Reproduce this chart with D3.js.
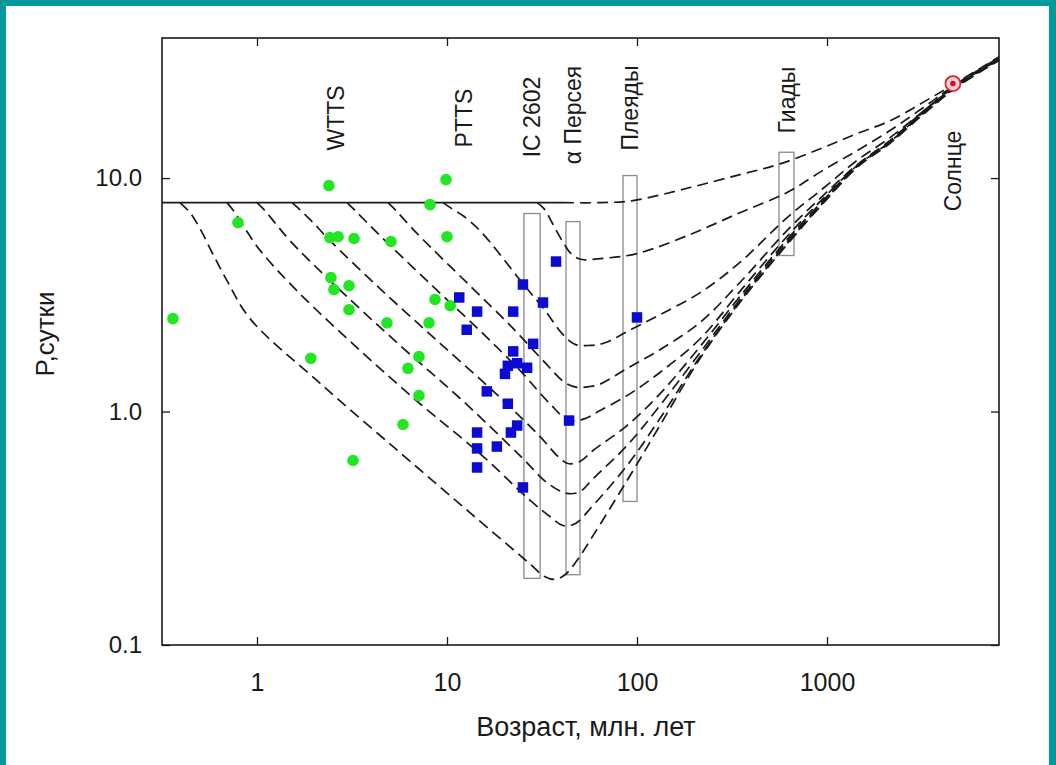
<!DOCTYPE html>
<html>
<head>
<meta charset="utf-8">
<script src="https://cdn.jsdelivr.net/npm/d3@7"></script>
<style>
  html, body { margin: 0; padding: 0; background: #ffffff; }
  svg { display: block; }
  text { font-family: "Liberation Sans", Arial, sans-serif; fill: #1a1a1a; }
</style>
</head>
<body>
<svg id="chart" width="1056" height="765"></svg>
<script>
// Rotation period (days) versus age (Myr), log-log.

const xTicks = [1, 10, 100, 1000];
const xTickLabels = ["1", "10", "100", "1000"];
const yTicks = [0.1, 1, 10];
const yTickLabels = ["0.1", "1.0", "10.0"];

// Weak-line T Tauri stars [age, period]
const wttsStars = [
  [0.361, 2.50], [0.794, 6.45], [1.92, 1.69], [2.39, 9.29], [2.42, 5.56],
  [2.67, 5.61], [3.24, 5.51], [2.45, 3.75], [2.54, 3.33], [3.05, 3.46],
  [3.05, 2.73], [3.20, 0.617], [5.07, 5.35], [4.83, 2.40], [6.23, 1.53],
  [7.12, 1.72], [7.12, 1.17], [5.87, 0.88], [8.04, 2.40], [8.64, 3.02],
  [10.4, 2.84], [8.14, 7.70], [9.88, 9.85], [10.0, 5.61]
];

// Post-T Tauri stars and young cluster members [age, period]
const pttsStars = [
  [11.6, 3.08], [14.4, 2.68], [12.7, 2.24], [22.3, 2.68], [25.1, 3.50],
  [32.0, 2.93], [37.5, 4.39], [28.4, 1.95], [22.3, 1.81], [20.9, 1.57],
  [23.4, 1.61], [26.4, 1.54], [20.2, 1.45], [16.2, 1.22], [20.9, 1.08],
  [23.4, 0.871], [21.7, 0.813], [14.4, 0.813], [14.4, 0.695], [18.3, 0.708],
  [14.4, 0.576], [25.1, 0.473], [43.9, 0.915], [100, 2.53]
];

// Cluster boxes: age range and period range
const clusterNames = ["IC 2602", "α Персея", "Плеяды", "Гиады"];
const clusterAgeMin = [25.4, 42.3, 84.4, 559];
const clusterAgeMax = [30.9, 50.1, 100, 670];
const clusterPMin = [0.193, 0.200, 0.412, 4.66];
const clusterPMax = [7.05, 6.51, 10.25, 12.9];

// Text labels over the plot
const labelTexts = ["WTTS", "PTTS", "IC 2602", "α Персея", "Плеяды", "Гиады", "Солнце"];
const labelAges = [2.6, 12.3, 27.9, 46, 92, 612, 4600];

// The Sun
const sun = [4600, 25.4];

// Disk-locking phase: constant period until the disk is gone
const diskPeriod = 7.85;
const diskEndAge = 40.8;

// Model tracks [age, period], one per disk lifetime
const trackTop = [
  [40.8, 7.85], [63.9, 7.85], [95.3, 8.01], [190, 9.11], [348, 10.35], [566, 11.5],
  [953, 13.5], [1439, 15.5], [2146, 17.6], [3201, 21.1], [4718, 25.4], [8040, 33.1]
];
const track30 = [
  [29.8, 7.85], [32.4, 7.40], [35.7, 6.45], [40.3, 5.40], [45.5, 4.70], [51.3, 4.48],
  [63.9, 4.52], [100, 4.75], [190, 5.73], [348, 7.11], [616, 8.67], [953, 10.8],
  [1439, 13.1], [2146, 16.0], [3201, 20.0], [4718, 25.1], [8040, 32.8]
];
const track10 = [
  [9.53, 7.85], [10.6, 7.40], [12.1, 6.91], [14.9, 5.96], [25.1, 3.53], [32.8, 2.71],
  [40.3, 2.16], [47.2, 1.94], [56.6, 1.92], [67.9, 1.97], [88.6, 2.20], [132, 2.60],
  [215, 3.23], [348, 4.35], [616, 6.77], [953, 9.02], [1439, 11.9], [2146, 14.9],
  [3201, 19.3], [4718, 24.9], [8040, 32.5]
];
const track5 = [
  [4.89, 7.85], [5.39, 7.26], [6.01, 6.58], [7.21, 5.62], [13.2, 3.46], [21.5, 2.34],
  [32.8, 1.62], [41.8, 1.33], [48.3, 1.27], [56.6, 1.28], [63.9, 1.31], [88.6, 1.53],
  [132, 1.84], [215, 2.41], [348, 3.57], [616, 5.96], [953, 8.41], [1439, 11.4],
  [2146, 14.5], [3201, 19.3], [4718, 24.7], [8040, 32.5]
];
const track3 = [
  [2.98, 7.85], [3.28, 7.26], [3.70, 6.58], [4.44, 5.67], [8.14, 3.53], [14.9, 2.22],
  [24.2, 1.50], [34.8, 1.08], [43.9, 0.915], [53.2, 0.933], [63.9, 1.01], [88.6, 1.17],
  [132, 1.47], [215, 2.05], [348, 3.27], [616, 5.62], [953, 8.17], [1439, 11.3],
  [2146, 14.3], [3201, 19.1], [4718, 24.7], [8040, 32.2]
];
const track15 = [
  [1.53, 7.85], [1.68, 7.33], [1.95, 6.51], [2.42, 5.40], [4.44, 3.36], [9.19, 1.96],
  [19.0, 1.15], [30.9, 0.781], [38.4, 0.642], [43.3, 0.599], [50.1, 0.611], [58.7, 0.681],
  [88.6, 0.871], [132, 1.19], [215, 1.90], [348, 3.11], [616, 5.45], [953, 8.01],
  [1439, 11.3], [2146, 14.3], [3201, 18.9], [4718, 24.4], [8040, 32.2]
];
const track1 = [
  [1.00, 7.85], [1.10, 7.26], [1.24, 6.45], [1.49, 5.40], [2.42, 3.64], [5.66, 1.92],
  [11.7, 1.14], [24.2, 0.648], [34.0, 0.492], [42.8, 0.446], [50.1, 0.454], [58.7, 0.516],
  [88.6, 0.715], [132, 1.06], [215, 1.79], [348, 3.02], [616, 5.35], [953, 7.93],
  [1439, 11.3], [2146, 14.2], [3201, 18.9], [4718, 24.4], [8040, 32.2]
];
const track07 = [
  [0.695, 7.85], [0.766, 7.11], [0.865, 6.08], [1.04, 4.89], [1.68, 3.20], [3.48, 1.83],
  [7.21, 1.08], [14.9, 0.661], [27.4, 0.416], [34.8, 0.355], [40.8, 0.325], [47.2, 0.331],
  [58.7, 0.396], [88.6, 0.587], [132, 0.933], [215, 1.72], [348, 2.96], [616, 5.24],
  [953, 7.85], [1439, 11.2], [2146, 14.2], [3201, 18.9], [4718, 24.4], [8040, 32.2]
];
const track04 = [
  [0.393, 7.85], [0.444, 7.11], [0.501, 6.08], [0.580, 4.80], [0.695, 3.64], [0.919, 2.50],
  [2.15, 1.32], [5.66, 0.667], [13.2, 0.369], [26.4, 0.228], [32.8, 0.196], [37.0, 0.191],
  [41.8, 0.200], [48.3, 0.230], [58.7, 0.294], [88.6, 0.506], [132, 0.871], [215, 1.69],
  [348, 2.93], [616, 5.19], [953, 7.78], [1439, 11.1], [2146, 14.1], [3201, 18.7],
  [4718, 24.2], [8040, 31.9]
];
const tracks = [trackTop, track30, track10, track5, track3, track15, track1, track07, track04];

// ---- layout ----
const W = 1056, H = 765;
const plot = { left: 162, right: 999, top: 38, bottom: 645 };

const svg = d3.select("#chart");

// teal frame around the slide
svg.append("rect").attr("x", 0).attr("y", 0).attr("width", W).attr("height", H).attr("fill", "#009a9a");
svg.append("rect").attr("x", 6).attr("y", 6).attr("width", W - 13).attr("height", H - 6).attr("fill", "#ffffff");

const x = d3.scaleLog().domain([Math.pow(10, -0.5), 8040]).range([plot.left, plot.right]);
const y = d3.scaleLog().domain([0.1, Math.pow(10, 1.6)]).range([plot.bottom, plot.top]);

const g = svg.append("g");

// cluster boxes
g.selectAll("rect.cluster")
  .data(clusterNames)
  .join("rect")
  .attr("class", "cluster")
  .attr("x", (d, i) => x(clusterAgeMin[i]))
  .attr("width", (d, i) => x(clusterAgeMax[i]) - x(clusterAgeMin[i]))
  .attr("y", (d, i) => y(clusterPMax[i]))
  .attr("height", (d, i) => y(clusterPMin[i]) - y(clusterPMax[i]))
  .attr("fill", "none")
  .attr("stroke", "#8a8a8a")
  .attr("stroke-width", 1.3);

// disk-locked phase
g.append("line")
  .attr("x1", x(x.domain()[0])).attr("x2", x(diskEndAge))
  .attr("y1", y(diskPeriod)).attr("y2", y(diskPeriod))
  .attr("stroke", "#1a1a1a").attr("stroke-width", 1.8);

// model tracks
const line = d3.line()
  .x(d => x(d[0]))
  .y(d => y(d[1]))
  .curve(d3.curveCatmullRom.alpha(0.5));

g.selectAll("path.track")
  .data(tracks)
  .join("path")
  .attr("class", "track")
  .attr("d", line)
  .attr("fill", "none")
  .attr("stroke", "#1a1a1a")
  .attr("stroke-width", 1.7)
  .attr("stroke-dasharray", "11,6");

// stars
g.selectAll("circle.wtts")
  .data(wttsStars)
  .join("circle")
  .attr("class", "wtts")
  .attr("cx", d => x(d[0]))
  .attr("cy", d => y(d[1]))
  .attr("r", 5.8)
  .attr("fill", "#22e622");

const sq = 10.5;
g.selectAll("rect.ptts")
  .data(pttsStars)
  .join("rect")
  .attr("class", "ptts")
  .attr("x", d => x(d[0]) - sq / 2)
  .attr("y", d => y(d[1]) - sq / 2)
  .attr("width", sq)
  .attr("height", sq)
  .attr("fill", "#0b0bd2");

// the Sun symbol
g.append("circle")
  .attr("cx", x(sun[0])).attr("cy", y(sun[1])).attr("r", 7.5)
  .attr("fill", "#fbd3da").attr("stroke", "#e0202c").attr("stroke-width", 1.8);
g.append("circle")
  .attr("cx", x(sun[0])).attr("cy", y(sun[1])).attr("r", 2.8)
  .attr("fill", "#d0101c");

// vertical labels
const labelCenterY = [118, 118, 117, 115, 108, 100, 171];
g.selectAll("text.lbl")
  .data(labelTexts)
  .join("text")
  .attr("class", "lbl")
  .attr("transform", (d, i) => `translate(${x(labelAges[i])},${labelCenterY[i]}) rotate(-90)`)
  .attr("text-anchor", "middle")
  .attr("dy", "0.35em")
  .attr("font-size", 23)
  .text(d => d);

// axes with inward ticks on all four sides
const tickLen = 8;
const axB = svg.append("g").attr("transform", `translate(0,${plot.bottom})`)
  .call(d3.axisBottom(x).tickValues(xTicks).tickSizeInner(-tickLen).tickSizeOuter(0)
    .tickPadding(28).tickFormat((d, i) => xTickLabels[i]));
const axT = svg.append("g").attr("transform", `translate(0,${plot.top})`)
  .call(d3.axisTop(x).tickValues(xTicks).tickSizeInner(-tickLen).tickSizeOuter(0).tickFormat(""));
const axL = svg.append("g").attr("transform", `translate(${plot.left},0)`)
  .call(d3.axisLeft(y).tickValues(yTicks).tickSizeInner(-tickLen).tickSizeOuter(0)
    .tickPadding(20).tickFormat((d, i) => yTickLabels[i]));
const axR = svg.append("g").attr("transform", `translate(${plot.right},0)`)
  .call(d3.axisRight(y).tickValues(yTicks).tickSizeInner(-tickLen).tickSizeOuter(0).tickFormat(""));

[axB, axT, axL, axR].forEach(a => {
  a.select(".domain").remove();
  a.selectAll(".tick line").attr("stroke", "#1a1a1a").attr("stroke-width", 1.3);
  a.selectAll("text").attr("fill", "#1a1a1a").attr("font-family", "'Liberation Sans', Arial, sans-serif");
});
axB.selectAll("text").attr("font-size", 25);
axL.selectAll("text").attr("font-size", 24).attr("font-family", "'DejaVu Sans', Verdana, sans-serif");

// plot frame
svg.append("rect")
  .attr("x", plot.left).attr("y", plot.top)
  .attr("width", plot.right - plot.left).attr("height", plot.bottom - plot.top)
  .attr("fill", "none").attr("stroke", "#1a1a1a").attr("stroke-width", 1.6);

// axis titles
svg.append("text")
  .attr("x", 586).attr("y", 736)
  .attr("text-anchor", "middle").attr("font-size", 27)
  .text("Возраст, млн. лет");
svg.append("text")
  .attr("transform", `translate(54,334) rotate(-90)`)
  .attr("text-anchor", "middle").attr("font-size", 26)
  .text("P,сутки");
</script>
</body>
</html>
